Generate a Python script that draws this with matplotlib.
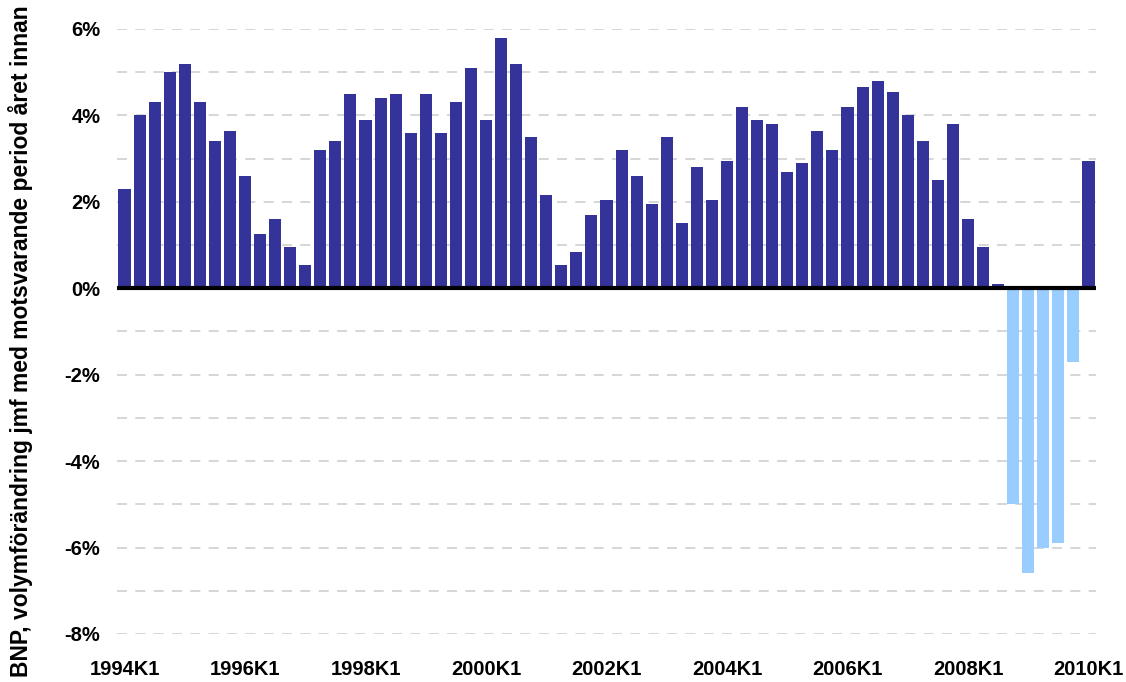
import numpy as np
import matplotlib.pyplot as plt

plt.rcParams['font.family'] = ['Liberation Sans', 'DejaVu Sans']

# BNP, annual volume change per quarter 1994K1 .. 2010K1
years = list(range(1994, 2011))
quarters = [f"{y}K{q}" for y in years for q in range(1, 5)][:65]
bnp = [
    2.3, 4.0, 4.3, 5.0,
    5.2, 4.3, 3.4, 3.65,
    2.6, 1.25, 1.6, 0.95,
    0.55, 3.2, 3.4, 4.5,
    3.9, 4.4, 4.5, 3.6,
    4.5, 3.6, 4.3, 5.1,
    3.9, 5.8, 5.2, 3.5,
    2.15, 0.55, 0.85, 1.7,
    2.05, 3.2, 2.6, 1.95,
    3.5, 1.5, 2.8, 2.05,
    2.95, 4.2, 3.9, 3.8,
    2.7, 2.9, 3.65, 3.2,
    4.2, 4.65, 4.8, 4.55,
    4.0, 3.4, 2.5, 3.8,
    1.6, 0.95, 0.1, -5.0,
    -6.6, -6.0, -5.9, -1.7,
    2.95,
]
tick_every = 8
yticks = [6, 4, 2, 0, -2, -4, -6, -8]

dark = '#333399'
light = '#99ccff'

x = np.arange(len(bnp))
vals = np.array(bnp)
colors = [dark if v >= 0 else light for v in vals]

fig = plt.figure(figsize=(11.26, 6.82), dpi=100)
ax = fig.add_axes([0.1039, 0.0704, 0.8695, 0.8871])

# dashed grid every 1 %
for g in range(-8, 7):
    if g == 0:
        continue
    ax.axhline(g, color='#d0d0d0', linewidth=1.2, linestyle=(0, (6, 5)), zorder=0)

ax.bar(x, vals, width=0.8, color=colors, zorder=2)
ax.axhline(0, color='black', linewidth=3.0, zorder=3)

ax.set_xlim(-0.5, len(bnp) - 0.5)
ax.set_ylim(-8, 6)

for s in ax.spines.values():
    s.set_visible(False)

ax.set_xticks(x[::tick_every])
ax.set_xticklabels(quarters[::tick_every], fontsize=14.5, fontweight='bold')
ax.set_yticks(yticks)
ax.set_yticklabels([f"{t}%" for t in yticks], fontsize=14.5, fontweight='bold')
ax.tick_params(axis='x', length=0, pad=19)
ax.tick_params(axis='y', length=0, pad=12)

fig.text(0.018, 0.5, 'BNP, volymförändring jmf med motsvarande period året innan',
         rotation=90, ha='center', va='center', fontsize=16.5, fontweight='bold')

fig.savefig('out.png', dpi=100)
